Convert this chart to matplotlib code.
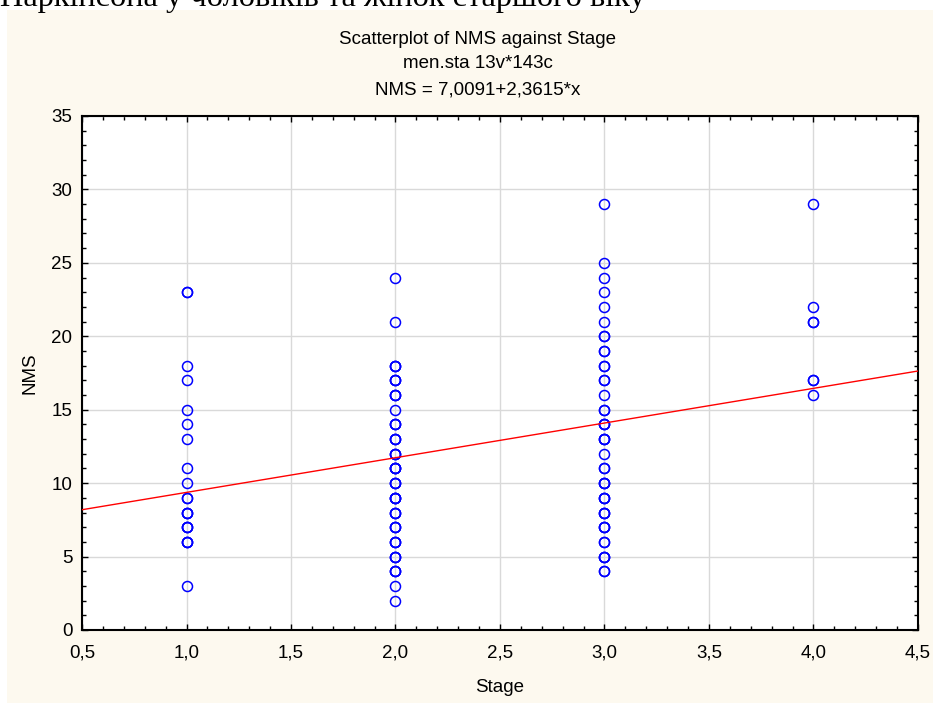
import matplotlib
matplotlib.use("Agg")
import matplotlib.pyplot as plt
from matplotlib.patches import Rectangle
from matplotlib.ticker import MultipleLocator, FuncFormatter

# ---- data ----
stage1 = [3, 6, 6, 6, 7, 7, 7, 8, 8, 8, 9, 9, 10, 11, 13, 14, 15, 17, 18, 23, 23]
stage2 = [2, 3, 4, 4, 4, 5, 5, 5, 6, 6, 6, 7, 7, 7, 8, 8, 8, 9, 9, 9, 9, 10, 10, 10,
          11, 11, 11, 11, 12, 12, 12, 13, 13, 13, 14, 14, 14, 15, 16, 16, 16,
          17, 17, 17, 18, 18, 18, 21, 24]
stage3 = [4, 4, 5, 5, 5, 6, 6, 7, 7, 7, 8, 8, 8, 9, 9, 9, 10, 10, 10, 11, 11, 12,
          13, 13, 13, 14, 14, 14, 15, 15, 16, 17, 17, 18, 18, 19, 19, 20, 20,
          21, 22, 23, 24, 25, 29]
stage4 = [16, 17, 17, 21, 21, 22, 29]
stages = [1.0, 2.0, 3.0, 4.0]
groups = [stage1, stage2, stage3, stage4]
intercept = 7.0091
slope = 2.3615
x_range = [0.5, 4.5]

W, H = 933, 703
FS = 13.5
SANS = "Liberation Sans"
fig = plt.figure(figsize=(W / 100, H / 100), dpi=100)
fig.patch.set_facecolor("white")
fig.patches.append(Rectangle((7 / W, 0), 1 - 7 / W, 1 - 9.5 / H, transform=fig.transFigure,
                             facecolor="#FDF9EF", edgecolor="none", zorder=-5))

fig.text(0, 1 - 6 / H, "Паркінсона у чоловіків та жінок старшого віку",
         family="Liberation Serif", fontsize=23.3, ha="left", va="baseline")

ax = fig.add_axes([82 / W, 1 - 630 / H, (918 - 82) / W, (630 - 116) / H])
ax.set_facecolor("white")

for s, vals in zip(stages, groups):
    ax.plot([s] * len(vals), vals, linestyle="none", marker="o", markersize=7.2,
            markerfacecolor="none", markeredgecolor="#0000FF", markeredgewidth=1.1,
            zorder=3)

ax.plot(x_range, [intercept + slope * x for x in x_range], color="#FF0000", lw=1.0, zorder=4)

ax.set_xlim(0.5, 4.5)
ax.set_ylim(0, 35)
ax.xaxis.set_major_locator(MultipleLocator(0.5))
ax.xaxis.set_minor_locator(MultipleLocator(0.1))
ax.yaxis.set_major_locator(MultipleLocator(5))
ax.yaxis.set_minor_locator(MultipleLocator(1))
ax.xaxis.set_major_formatter(FuncFormatter(lambda v, p: f"{v:.1f}".replace(".", ",")))
ax.yaxis.set_major_formatter(FuncFormatter(lambda v, p: f"{v:.0f}"))
ax.grid(True, which="major", color="#D9D9D9", lw=1.0, zorder=1)
ax.set_axisbelow(True)

ax.tick_params(which="major", direction="in", length=4, width=1, labelsize=FS,
               top=True, right=True, labeltop=False, labelright=False)
ax.tick_params(axis="x", which="major", pad=10.5)
ax.tick_params(axis="y", which="major", pad=7)
ax.tick_params(which="minor", direction="in", length=3, width=1, top=True, right=True)
for lab in ax.get_xticklabels() + ax.get_yticklabels():
    lab.set_family(SANS)
for sp in ax.spines.values():
    sp.set_linewidth(1.5)
    sp.set_color("black")

ax.set_xlabel("Stage", family=SANS, fontsize=FS, va="center")
ax.xaxis.set_label_coords(0.5, (630 - 688) / 514)
ax.set_ylabel("NMS", family=SANS, fontsize=FS, va="center")
ax.yaxis.set_label_coords((30 - 82) / 836, 0.5)

cx = 478 / W
fig.text(cx, 1 - 39 / H, "Scatterplot of NMS against Stage", family=SANS,
         fontsize=FS, ha="center", va="center")
fig.text(cx, 1 - 64 / H, "men.sta 13v*143c", family=SANS,
         fontsize=FS, ha="center", va="center")
fig.text(cx, 1 - 90 / H, "NMS = 7,0091+2,3615*x", family=SANS,
         fontsize=FS, ha="center", va="center")

fig.savefig("out.png", dpi=100, facecolor=fig.get_facecolor())
